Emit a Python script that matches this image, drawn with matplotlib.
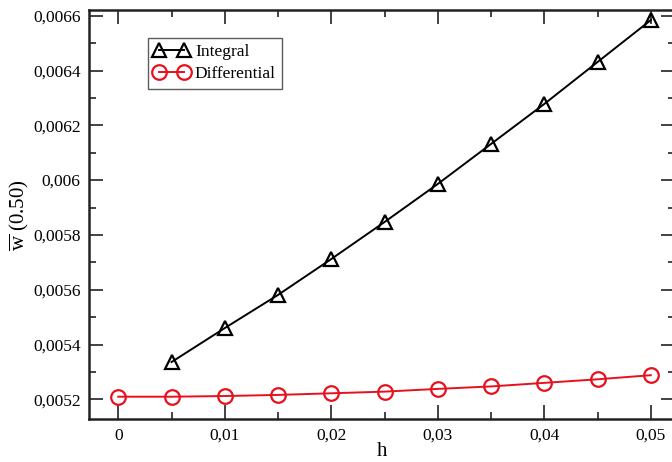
import matplotlib.pyplot as plt
from matplotlib.ticker import MultipleLocator, FuncFormatter

plt.rcParams['font.family'] = ['Liberation Serif', 'DejaVu Serif']
plt.rcParams['mathtext.fontset'] = 'custom'
plt.rcParams['mathtext.rm'] = 'Liberation Serif'
plt.rcParams['mathtext.it'] = 'Liberation Serif:italic'

h_int = [0.005, 0.010, 0.015, 0.020, 0.025, 0.030, 0.035, 0.040, 0.045, 0.050]
w_int = [0.005336, 0.005460, 0.005581, 0.005712, 0.005847,
         0.005986, 0.006132, 0.006278, 0.006431, 0.006584]

h_diff = [0.000, 0.005, 0.010, 0.015, 0.020, 0.025, 0.030,
          0.035, 0.040, 0.045, 0.050]
w_diff = [0.0052095, 0.0052095, 0.005212, 0.005216, 0.005222, 0.005228,
          0.005238, 0.005247, 0.005260, 0.005273, 0.005288]

xticks = [0, 0.01, 0.02, 0.03, 0.04, 0.05]
yticks = [0.0052, 0.0054, 0.0056, 0.0058, 0.0060, 0.0062, 0.0064, 0.0066]


def comma(v, pos):
    s = ('%.4f' % v).rstrip('0').rstrip('.')
    if s in ('0', '-0'):
        return '0'
    return s.replace('.', ',')


fig = plt.figure(figsize=(6.72, 4.62), dpi=100)
ax = fig.add_axes([0.1324, 0.0924, 0.872, 0.886])

ax.plot(h_int, w_int, color='black', lw=1.4, marker='^', ms=10,
        mfc='none', mec='black', mew=1.6, label='Integral')
ax.plot(h_diff, w_diff, color='#e8101c', lw=1.4, marker='o', ms=10.5,
        mfc='none', mec='#e8101c', mew=1.6, label='Differential')

ax.set_xlim(-0.00275, 0.05227)
ax.set_ylim(0.005127, 0.006621)
ax.set_xticks(xticks)
ax.set_yticks(yticks)
ax.xaxis.set_minor_locator(MultipleLocator(0.005))
ax.yaxis.set_minor_locator(MultipleLocator(0.0001))
ax.xaxis.set_major_formatter(FuncFormatter(comma))
ax.yaxis.set_major_formatter(FuncFormatter(comma))
ax.tick_params(which='both', direction='in', top=True, right=True,
               width=1.2, color='#222222', labelsize=12.5)
ax.tick_params(which='major', length=10, pad=6)
ax.tick_params(which='minor', length=5)
for sp in ax.spines.values():
    sp.set_linewidth(1.8)
    sp.set_color('#222222')

ax.set_xlabel('h', fontsize=15, labelpad=-1)
ax.set_ylabel(r'$\overline{\mathrm{w}}$ (0.50)', fontsize=15, labelpad=1.5)

leg = ax.legend(loc='upper left', bbox_to_anchor=(0.1007, 0.9316), fontsize=12.5,
                frameon=True, fancybox=False, edgecolor='#333333',
                numpoints=2, handlelength=2.0, handletextpad=0.35,
                borderpad=0.35, labelspacing=0.35, borderaxespad=0)
leg.get_frame().set_linewidth(1.0)

fig.savefig('out.png', dpi=100)
